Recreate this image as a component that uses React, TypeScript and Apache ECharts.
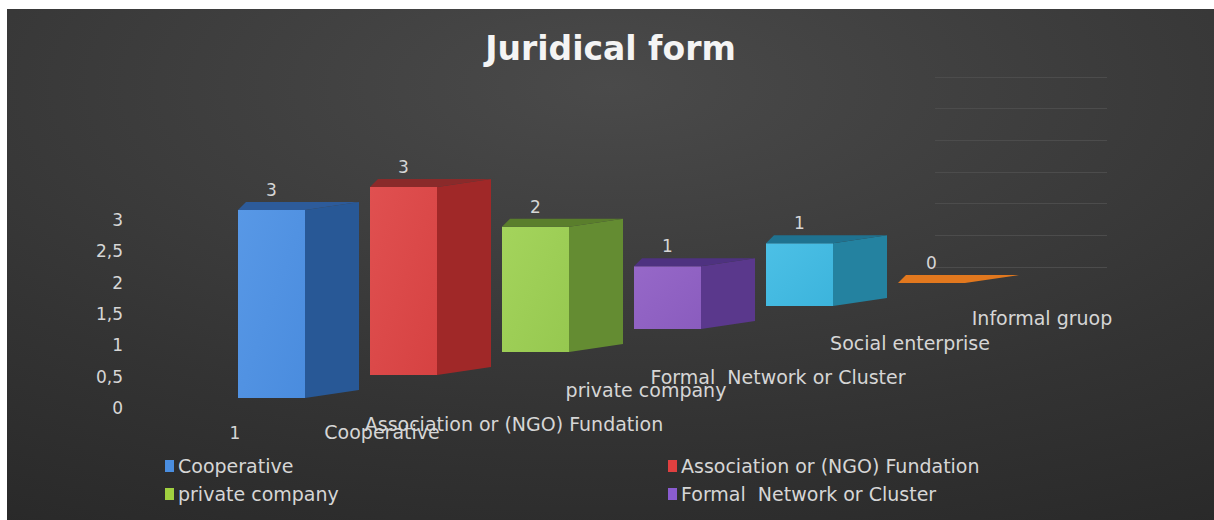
import React, { useEffect, useRef } from "react";
import * as echarts from "echarts";

// ---- data ----
const CATEGORIES = ["1"];
const SERIES_NAMES = [
  "Cooperative",
  "Association or (NGO) Fundation",
  "private company",
  "Formal  Network or Cluster",
  "Social enterprise",
  "Informal gruop",
];
const VALUES = [3, 3, 2, 1, 1, 0];
const LEGEND_COL1 = ["Cooperative", "private company"];
const LEGEND_COL2 = ["Association or (NGO) Fundation", "Formal  Network or Cluster"];
const Y_MIN = 0;
const Y_MAX = 3;
const Y_STEP = 0.5;

// ---- styles ----
const FRONT = ["#4a8cde", "#d64242", "#96c850", "#8a5cbe", "#3cb4dc", "#e2781e"];
const FRONT_LIGHT = ["#5898e6", "#e05050", "#a4d45c", "#9668c8", "#4cc0e6", "#ec8428"];
const SIDE = ["#285896", "#a02828", "#648c32", "#5a388c", "#2482a0", "#b85c14"];
const TOP = ["#2d5b9a", "#8a2a2a", "#5a7e2c", "#4e3280", "#1f7290", "#c86a18"];
const LEGEND_COLORS = ["#4a8ee0", "#e04040", "#a0d040", "#8a5cd0", "#3cb4dc", "#e2781e"];
const DEPTH_LABEL_NUDGE_Y = [0, 15, 4, 14, 3, 1];

const FONT = "DejaVu Sans";
const TEXT_COLOR = "#d6d6d6";
const FRONT_DX = 3;
const FRONT_DY = -10;
const DEPTH_DX = 132;
const DEPTH_DY = -23;
const FW = 67;
const SW = 54;
const SDY = -8;

function makeRender(i: number) {
  return (params: any, api: any) => {
    const v = api.value(1);
    const b = api.coord([api.value(0), 0]);
    const t = api.coord([api.value(0), v]);
    const ox = b[0] + FRONT_DX + DEPTH_DX * i;
    const sh = FRONT_DY + DEPTH_DY * i;
    const y0 = b[1] + sh;
    const y1 = t[1] + sh;
    const children: any[] = [];
    if (y0 - y1 > 0.5) {
      children.push({
        type: "polygon",
        shape: {
          points: [
            [ox + FW, y1],
            [ox + FW + SW, y1 + SDY],
            [ox + FW + SW, y0 + SDY],
            [ox + FW, y0],
          ],
        },
        style: { fill: SIDE[i] },
      });
      children.push({
        type: "rect",
        shape: { x: ox, y: y1, width: FW, height: y0 - y1 },
        style: {
          fill: new echarts.graphic.LinearGradient(0, 0, 1, 1, [
            { offset: 0, color: FRONT_LIGHT[i] },
            { offset: 1, color: FRONT[i] },
          ]),
        },
      });
    }
    children.push({
      type: "polygon",
      shape: {
        points: [
          [ox, y1],
          [ox + FW, y1],
          [ox + FW + SW, y1 + SDY],
          [ox + 8, y1 + SDY],
        ],
      },
      style: { fill: y0 - y1 > 0.5 ? TOP[i] : FRONT[i] },
    });
    children.push({
      type: "text",
      x: ox + FW / 2,
      y: y1 - 20,
      style: {
        text: String(v),
        fill: TEXT_COLOR,
        fontSize: 17,
        fontFamily: FONT,
        align: "center",
        verticalAlign: "middle",
      },
    });
    children.push({
      type: "text",
      x: ox + 144,
      y: b[1] + FRONT_DY + DEPTH_DY * i + 34 + DEPTH_LABEL_NUDGE_Y[i],
      style: {
        text: SERIES_NAMES[i],
        fill: TEXT_COLOR,
        fontSize: 19,
        fontFamily: FONT,
        align: "center",
        verticalAlign: "middle",
      },
    });
    return { type: "group", children };
  };
}

export default function App() {
  const ref = useRef<HTMLDivElement>(null);
  useEffect(() => {
    const chart = echarts.init(ref.current!, null, { renderer: "svg" });
    const series: any[] = SERIES_NAMES.map((name, i) => ({
      type: "custom",
      name,
      xAxisIndex: 0,
      yAxisIndex: 0,
      clip: false,
      itemStyle: { color: LEGEND_COLORS[i] },
      renderItem: makeRender(i),
      data: [[0, VALUES[i]]],
      z: 10 + i,
    }));
    const legendCommon = {
      orient: "vertical",
      icon: "rect",
      itemWidth: 9,
      itemHeight: 12,
      itemGap: 8,
      padding: 0,
      textStyle: { color: TEXT_COLOR, fontSize: 19, fontFamily: FONT, lineHeight: 20, padding: [0, 0, 0, -1] },
      top: 447,
    };
    chart.setOption({
      animation: false,
      backgroundColor: {
        type: "radial",
        x: 0.5,
        y: 0.15,
        r: 1.1,
        colorStops: [
          { offset: 0, color: "#4a4a4a" },
          { offset: 0.6, color: "#333333" },
          { offset: 1, color: "#262626" },
        ],
      },
      title: {
        text: "Juridical form",
        left: "center",
        top: 18,
        textStyle: { color: "#f4f4f4", fontSize: 33, fontWeight: "bold", fontFamily: FONT },
      },
      legend: [
        { ...legendCommon, left: 158, data: LEGEND_COL1 },
        { ...legendCommon, left: 661, data: LEGEND_COL2 },
      ],
      grid: [
        { left: 124, top: 211, width: 208, bottom: 112 },
        { left: 928, top: 68, width: 172, height: 190 },
      ],
      xAxis: [
        {
          type: "category",
          gridIndex: 0,
          data: CATEGORIES,
          axisLine: { show: false },
          axisTick: { show: false },
          axisLabel: { color: TEXT_COLOR, fontSize: 17, fontFamily: FONT, margin: 16 },
        },
        { type: "category", gridIndex: 1, data: CATEGORIES, show: false },
      ],
      yAxis: [
        {
          type: "value",
          gridIndex: 0,
          min: Y_MIN,
          max: Y_MAX,
          interval: Y_STEP,
          splitLine: { show: false },
          axisLine: { show: false },
          axisTick: { show: false },
          axisLabel: {
            color: TEXT_COLOR,
            fontSize: 17,
            fontFamily: FONT,
            margin: 8,
            formatter: (v: number) => String(v).replace(".", ","),
          },
        },
        {
          type: "value",
          gridIndex: 1,
          min: Y_MIN,
          max: Y_MAX,
          interval: Y_STEP,
          axisLine: { show: false },
          axisTick: { show: false },
          axisLabel: { show: false },
          splitLine: { show: true, lineStyle: { color: "#4c4c4c", width: 1 } },
        },
      ],
      series,
    });
    return () => chart.dispose();
  }, []);
  return (
    <div
      style={{
        position: "absolute",
        left: 0,
        top: 0,
        width: 1214,
        height: 520,
        background: "#ffffff",
        overflow: "hidden",
      }}
    >
      <div ref={ref} style={{ position: "absolute", left: 7, top: 9, width: 1207, height: 511 }} />
    </div>
  );
}
